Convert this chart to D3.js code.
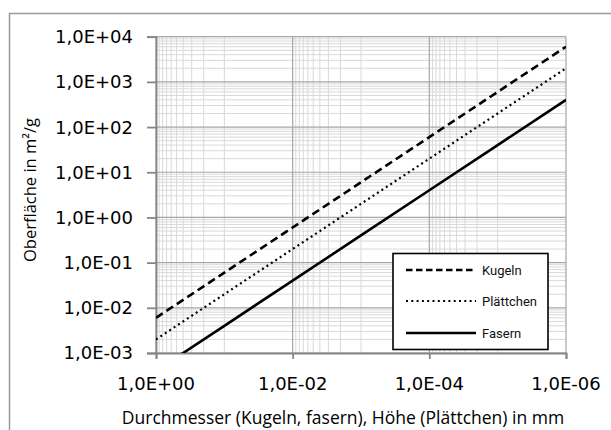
<!DOCTYPE html>
<html>
<head>
<meta charset="utf-8">
<script src="https://cdn.jsdelivr.net/npm/d3@7"></script>
<style>
  body { margin: 0; background: #fff; }
  .tick-label { font-family: "DejaVu Sans", sans-serif; font-size: 18px; fill: #000; }
  .axis-title { font-family: "Open Sans", sans-serif; font-size: 17.5px; fill: #000; }
  .legend-text { font-family: Roboto, sans-serif; font-size: 13px; fill: #111; }
</style>
</head>
<body>
<div id="chart"></div>
<script>
// diameter / height in mm
var durchmesser = [1, 1e-1, 1e-2, 1e-3, 1e-4, 1e-5, 1e-6];
// surface area in m²/g
var kugeln     = [6e-3, 6e-2, 6e-1, 6e0, 6e1, 6e2, 6e3];
var plaettchen = [2e-3, 2e-2, 2e-1, 2e0, 2e1, 2e2, 2e3];
var fasern     = [4e-4, 4e-3, 4e-2, 4e-1, 4e0, 4e1, 4e2];

var seriesNames = ["Kugeln", "Plättchen", "Fasern"];

var xTickValues = [1, 1e-2, 1e-4, 1e-6];
var xTickLabels = ["1,0E+00", "1,0E-02", "1,0E-04", "1,0E-06"];
var yTickValues = [1e-3, 1e-2, 1e-1, 1e0, 1e1, 1e2, 1e3, 1e4];
var yTickLabels = ["1,0E-03", "1,0E-02", "1,0E-01", "1,0E+00", "1,0E+01", "1,0E+02", "1,0E+03", "1,0E+04"];

var WIDTH = 611, HEIGHT = 430;
var plot = { left: 156, right: 566, top: 36.7, bottom: 353 };

var svg = d3.select("#chart").append("svg")
    .attr("width", WIDTH)
    .attr("height", HEIGHT);

// chart frame
svg.append("rect")
    .attr("x", 9.5).attr("y", 13.5)
    .attr("width", 640).attr("height", 500)
    .attr("fill", "none")
    .attr("stroke", "#9a9a9a")
    .attr("stroke-width", 1.5);

var x = d3.scaleLog().domain([1, 1e-6]).range([plot.left, plot.right]);
var y = d3.scaleLog().domain([1e-3, 1e4]).range([plot.bottom, plot.top]);

// minor grid values
var yMinor = [];
yTickValues.slice(0, -1).forEach(function(v) {
    for( var k=2; k<10; k++ ) yMinor.push(v*k);
});
var xMinor = [];
[1e-1, 1e-3, 1e-5].forEach(function(v) {
    for( var k=1; k<10; k++ ) xMinor.push(v*k);
});

var grid = svg.append("g");
grid.selectAll(".ymin").data(yMinor).enter().append("line")
    .attr("x1", plot.left).attr("x2", plot.right)
    .attr("y1", function(d){ return y(d); }).attr("y2", function(d){ return y(d); })
    .attr("stroke", "#d9d9d9").attr("stroke-width", 1);
grid.selectAll(".xmin").data(xMinor).enter().append("line")
    .attr("y1", plot.top).attr("y2", plot.bottom)
    .attr("x1", function(d){ return x(d); }).attr("x2", function(d){ return x(d); })
    .attr("stroke", "#d9d9d9").attr("stroke-width", 1);
grid.selectAll(".ymaj").data(yTickValues).enter().append("line")
    .attr("x1", plot.left).attr("x2", plot.right)
    .attr("y1", function(d){ return y(d); }).attr("y2", function(d){ return y(d); })
    .attr("stroke", "#a6a6a6").attr("stroke-width", 1.2);
grid.selectAll(".xmaj").data(xTickValues).enter().append("line")
    .attr("y1", plot.top).attr("y2", plot.bottom)
    .attr("x1", function(d){ return x(d); }).attr("x2", function(d){ return x(d); })
    .attr("stroke", "#a6a6a6").attr("stroke-width", 1.2);

// axes
var yAxis = svg.append("g")
    .attr("transform", "translate(" + plot.left + ",0)")
    .call(d3.axisLeft(y).tickValues(yTickValues).tickSize(9).tickFormat(""));
var xAxis = svg.append("g")
    .attr("transform", "translate(0," + plot.bottom + ")")
    .call(d3.axisBottom(x).tickValues(xTickValues).tickSize(6).tickFormat(""));
[xAxis, yAxis].forEach(function(a) {
    a.select(".domain").attr("stroke", "#868686").attr("stroke-width", 1.8);
    a.selectAll(".tick line").attr("stroke", "#868686").attr("stroke-width", 1.8);
});

svg.selectAll(".ylab").data(yTickValues).enter().append("text")
    .attr("class", "tick-label")
    .attr("x", 133)
    .attr("y", function(d){ return y(d); })
    .attr("dy", "0.36em")
    .attr("text-anchor", "end")
    .text(function(d, i){ return yTickLabels[i]; });

svg.selectAll(".xlab").data(xTickValues).enter().append("text")
    .attr("class", "tick-label")
    .attr("x", function(d){ return x(d); })
    .attr("y", 390)
    .attr("text-anchor", "middle")
    .text(function(d, i){ return xTickLabels[i]; });

// axis titles
svg.append("text")
    .attr("class", "axis-title")
    .attr("x", 343).attr("y", 424)
    .attr("text-anchor", "middle")
    .text("Durchmesser (Kugeln, fasern), Höhe (Plättchen) in mm");
svg.append("text")
    .attr("class", "axis-title")
    .attr("transform", "translate(36,190) rotate(-90)")
    .attr("text-anchor", "middle")
    .style("font-size", "16.5px")
    .text("Oberfläche in m²/g");

// series
svg.append("clipPath").attr("id", "plotClip")
    .append("rect")
    .attr("x", plot.left).attr("y", plot.top)
    .attr("width", plot.right - plot.left).attr("height", plot.bottom - plot.top);

var styles = [
    { dash: "8,4.5", width: 2.6, cap: "butt" },
    { dash: "2,3.3", width: 2.2, cap: "butt" },
    { dash: null, width: 2.6, cap: "butt" }
];
var seriesData = [kugeln, plaettchen, fasern];

var line = d3.line()
    .x(function(d){ return x(d[0]); })
    .y(function(d){ return y(d[1]); });

var lines = svg.append("g").attr("clip-path", "url(#plotClip)");
seriesData.forEach(function(vals, i) {
    lines.append("path")
        .datum(durchmesser.map(function(d, j){ return [d, vals[j]]; }))
        .attr("d", line)
        .attr("fill", "none")
        .attr("stroke", "#000")
        .attr("stroke-width", styles[i].width)
        .attr("stroke-linecap", styles[i].cap)
        .attr("stroke-dasharray", styles[i].dash);
});

// legend
var legend = svg.append("g").attr("transform", "translate(393,253.5)");
legend.append("rect")
    .attr("width", 155).attr("height", 96)
    .attr("fill", "#fff")
    .attr("stroke", "#000")
    .attr("stroke-width", 1.6);
var rows = [16.5, 47.5, 79.5];
seriesNames.forEach(function(name, i) {
    legend.append("line")
        .attr("x1", 13).attr("x2", 83)
        .attr("y1", rows[i]).attr("y2", rows[i])
        .attr("stroke", "#000")
        .attr("stroke-width", styles[i].width)
        .attr("stroke-dasharray", i == 0 ? "6.5,3.5" : styles[i].dash);
    legend.append("text")
        .attr("class", "legend-text")
        .attr("x", 89).attr("y", rows[i])
        .attr("dy", "0.35em")
        .text(name);
});
</script>
</body>
</html>
